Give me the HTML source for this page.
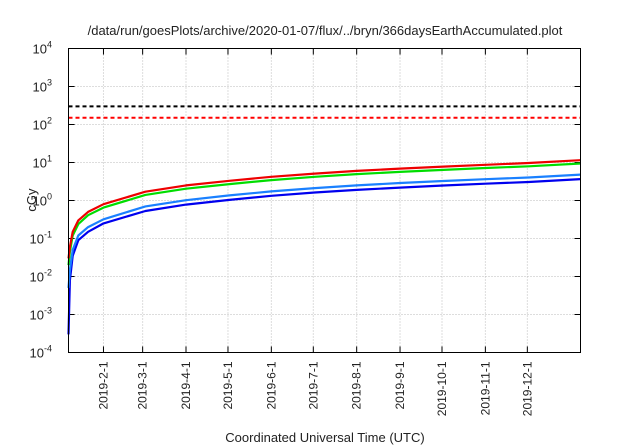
<!DOCTYPE html>
<html><head><meta charset="utf-8"><style>body{margin:0;background:#fff}svg{display:block;font-family:"Liberation Sans",sans-serif}</style></head>
<body>
<svg id="c" width="640" height="448" viewBox="0 0 640 448"></svg>
<script>
const days=[0,1,3,7,14,25,55,84,115,145,176,206,237,268,298,329,366];
const red=[0.03,0.06,0.15,0.3,0.5,0.8,1.7,2.5,3.3,4.2,5.1,6.0,6.9,7.8,8.7,9.7,11.5];
const green=[0.02,0.045,0.12,0.24,0.41,0.65,1.4,2.05,2.7,3.45,4.2,4.95,5.65,6.4,7.15,7.95,9.4];
const lblue=[0.005,0.015,0.05,0.12,0.2,0.32,0.7,1.02,1.36,1.74,2.12,2.5,2.88,3.26,3.64,4.04,4.8];
const blue=[0.0003,0.008,0.035,0.09,0.15,0.25,0.53,0.78,1.04,1.33,1.62,1.9,2.19,2.48,2.77,3.07,3.65];
const limits=[300,150];
const monthLabels=["2019-2-1","2019-3-1","2019-4-1","2019-5-1","2019-6-1","2019-7-1","2019-8-1","2019-9-1","2019-10-1","2019-11-1","2019-12-1"];
const monthDays=[25,53,84,114,145,175,206,237,267,298,328];
const decades=[-4,-3,-2,-1,0,1,2,3,4];
const L=68.5,R=580.5,T=48.5,B=352.5,ND=366;
const X=d=>L+(R-L)*d/ND;
const Y=v=>B-(Math.log10(v)+4)/8*(B-T);
const s=document.getElementById('c');const NS='http://www.w3.org/2000/svg';
function el(t,a,txt){const e=document.createElementNS(NS,t);for(const k in a)e.setAttribute(k,a[k]);if(txt!==undefined)e.textContent=txt;s.appendChild(e);return e;}
// grid
decades.forEach(p=>{const y=Y(Math.pow(10,p));
 if(p>-4&&p<4){const g=el('line',{x1:L,x2:R,y1:y,y2:y,stroke:'#bbb','stroke-dasharray':'1,2'});}
 const t1=el('line',{x1:L,x2:L+6,y1:y,y2:y,stroke:'#000'});
 const t2=el('line',{x1:R-6,x2:R,y1:y,y2:y,stroke:'#000'});
 const tx=el('text',{x:52,y:y+5,'text-anchor':'end','font-size':13,fill:'#222'},'10');
 
 const sp=document.createElementNS(NS,'tspan');sp.setAttribute('dy','-6');sp.setAttribute('font-size','9');sp.textContent=String(p);tx.appendChild(sp);
});
monthDays.forEach((d,i)=>{const x=X(d);
 const g=el('line',{x1:x,x2:x,y1:T,y2:B,stroke:'#bbb','stroke-dasharray':'1,2'});
 const t1=el('line',{x1:x,x2:x,y1:B-6,y2:B,stroke:'#000'});
 const t2=el('line',{x1:x,x2:x,y1:T,y2:T+6,stroke:'#000'});
 const t=el('text',{x:0,y:0,'text-anchor':'end','font-size':12,fill:'#222',transform:`translate(${x+4},${B+9}) rotate(-90)`},monthLabels[i]);
 
});
// limits
[['#000','limit-300'],['#f00','limit-150']].forEach((c,i)=>{const y=Y(limits[i]);
 const l=el('line',{x1:L,x2:R,y1:y,y2:y,stroke:c[0],'stroke-width':2,'stroke-dasharray':'4,3'});});
// series
[[blue,'#0000ee','series-blue'],[lblue,'#1a80ff','series-light-blue'],[green,'#00dd00','series-green'],[red,'#ee0000','series-red']].forEach(([v,c,n])=>{
 const d=v.map((val,i)=>(i?'L':'M')+X(days[i]).toFixed(1)+','+Y(val).toFixed(1)).join(' ');
 const p=el('path',{d:d,fill:'none',stroke:c,'stroke-width':2.2,'stroke-linejoin':'round'});});
const f=el('rect',{x:L,y:T,width:R-L,height:B-T,fill:'none',stroke:'#000','stroke-width':1});
const ti=el('text',{x:325,y:35,'text-anchor':'middle','font-size':13,fill:'#222'},'/data/run/goesPlots/archive/2020-01-07/flux/../bryn/366daysEarthAccumulated.plot');
const xt=el('text',{x:325,y:442,'text-anchor':'middle','font-size':13,fill:'#222'},'Coordinated Universal Time (UTC)');
const yt=el('text',{x:0,y:0,'text-anchor':'middle','font-size':13,fill:'#222',transform:'translate(36,200) rotate(-90)'},'cGy');
</script>
</body></html>
